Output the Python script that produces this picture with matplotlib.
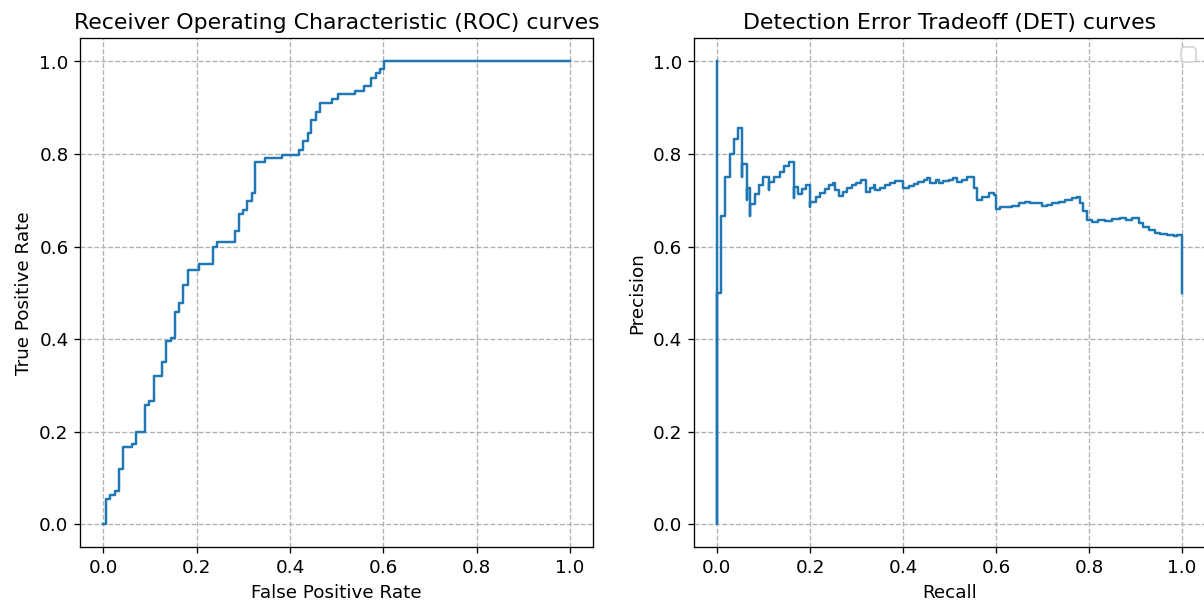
import numpy as np
import matplotlib
matplotlib.use("Agg")
import matplotlib.pyplot as plt

# ROC curve, step corners (level starts at fpr, holds until the next fpr)
fpr = [0.000, 0.006, 0.014, 0.026, 0.034, 0.042, 0.062, 0.070, 0.089, 0.097,
       0.108, 0.125, 0.135, 0.146, 0.154, 0.162, 0.171, 0.181, 0.205, 0.235,
       0.244, 0.282, 0.290, 0.300, 0.308, 0.318, 0.326, 0.346, 0.384, 0.420,
       0.429, 0.438, 0.446, 0.455, 0.465, 0.490, 0.502, 0.540, 0.558, 0.574,
       0.585, 0.594, 0.602, 1.000]
tpr = [0.000, 0.054, 0.063, 0.072, 0.120, 0.167, 0.173, 0.200, 0.258, 0.267,
       0.320, 0.350, 0.395, 0.402, 0.458, 0.478, 0.516, 0.550, 0.562, 0.598,
       0.609, 0.633, 0.670, 0.679, 0.698, 0.715, 0.782, 0.791, 0.798, 0.809,
       0.827, 0.845, 0.874, 0.891, 0.910, 0.919, 0.929, 0.936, 0.948, 0.965,
       0.974, 0.983, 1.000, 1.000]

# precision/recall curve, same step convention
recall = [0.000, 0.000, 0.000, 0.009, 0.018, 0.029, 0.037, 0.046, 0.054, 0.054,
          0.064, 0.064, 0.072, 0.072, 0.081, 0.090, 0.099, 0.111, 0.111, 0.123,
          0.135, 0.145, 0.154, 0.165, 0.165, 0.174, 0.183, 0.192, 0.201, 0.201,
          0.212, 0.222, 0.232, 0.241, 0.250, 0.254, 0.262, 0.270, 0.279, 0.290,
          0.300, 0.310, 0.321, 0.330, 0.338, 0.340, 0.351, 0.362, 0.372, 0.383,
          0.401, 0.412, 0.423, 0.433, 0.445, 0.452, 0.459, 0.470, 0.477, 0.486,
          0.498, 0.507, 0.516, 0.527, 0.538, 0.552, 0.559, 0.570, 0.584, 0.595,
          0.600, 0.609, 0.620, 0.634, 0.649, 0.663, 0.674, 0.685, 0.699, 0.710,
          0.720, 0.735, 0.749, 0.763, 0.774, 0.781, 0.788, 0.795, 0.806, 0.820,
          0.835, 0.849, 0.867, 0.880, 0.892, 0.907, 0.917, 0.928, 0.942, 0.953,
          0.967, 0.982, 0.990, 1.000]
precision = [1.000, 0.000, 0.500, 0.667, 0.750, 0.800, 0.833, 0.857, 0.750, 0.778,
             0.700, 0.727, 0.667, 0.692, 0.714, 0.733, 0.750, 0.722, 0.739, 0.750,
             0.762, 0.773, 0.783, 0.705, 0.729, 0.714, 0.724, 0.733, 0.686, 0.697,
             0.707, 0.716, 0.725, 0.733, 0.738, 0.723, 0.710, 0.718, 0.726, 0.733,
             0.738, 0.744, 0.717, 0.726, 0.733, 0.723, 0.726, 0.733, 0.737, 0.741,
             0.726, 0.731, 0.735, 0.740, 0.744, 0.748, 0.737, 0.744, 0.737, 0.741,
             0.744, 0.748, 0.739, 0.744, 0.751, 0.726, 0.701, 0.708, 0.716, 0.712,
             0.681, 0.685, 0.686, 0.688, 0.694, 0.697, 0.695, 0.693, 0.688, 0.690,
             0.694, 0.697, 0.701, 0.704, 0.707, 0.694, 0.676, 0.657, 0.654, 0.658,
             0.656, 0.660, 0.661, 0.658, 0.661, 0.651, 0.643, 0.636, 0.629, 0.627,
             0.625, 0.622, 0.625, 0.500]

plt.rcParams["font.size"] = 11.2

DPI = 118
fig = plt.figure(figsize=(1204.3 / DPI, 606.3 / DPI), dpi=DPI)
ax1 = fig.add_axes([80 / 1204, 1 - 547.3 / 606, 513 / 1204, 508.7 / 606])
ax2 = fig.add_axes([693.5 / 1204, 1 - 547.3 / 606, 511.5 / 1204, 508.7 / 606])

ax1.plot(fpr, tpr, drawstyle="steps-post")
ax1.set_title("Receiver Operating Characteristic (ROC) curves")
ax1.set_xlabel("False Positive Rate")
ax1.set_ylabel("True Positive Rate")
ax1.grid(linestyle="--")

ax2.plot(recall, precision, drawstyle="steps-post")
ax2.set_title("Detection Error Tradeoff (DET) curves")
ax2.set_xlabel("Recall")
ax2.set_ylabel("Precision")
ax2.grid(linestyle="--")
ax2.legend(loc="upper right")   # no labelled artists -> empty box, as in the original

for ax in (ax1, ax2):
    ax.set_xlim(-0.05, 1.05)
    ax.set_ylim(-0.05, 1.05)

fig.savefig("out.png", dpi=DPI)
